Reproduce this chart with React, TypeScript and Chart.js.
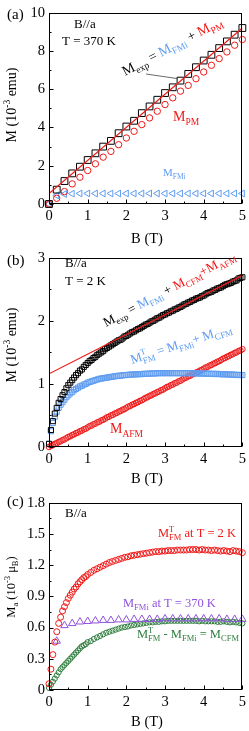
import React, { useEffect, useRef } from 'react';
import { Chart, registerables } from 'chart.js';
Chart.register(...registerables);

const FONT = '"Liberation Serif", "Times New Roman", serif';
const BLACK = '#000000';
const RED = '#f01818';
const BLUE = '#5e9cf0';
const PURPLE = '#9152de';
const GREEN = '#2f7d3e';

// ---------- common axis ticks ----------
const X_TICKS = [0, 1, 2, 3, 4, 5];
const X_MINOR = [0.5, 1.5, 2.5, 3.5, 4.5];

// ---------- panel (a): B//a, T = 370 K ----------
const B_A = [0, 0.2, 0.4, 0.6, 0.8, 1, 1.2, 1.4, 1.6, 1.8, 2, 2.2, 2.4, 2.6, 2.8, 3, 3.2, 3.4, 3.6, 3.8, 4, 4.2, 4.4, 4.6, 4.8, 5];
const A_EXP = [0, 0.75, 1.2, 1.6, 1.95, 2.3, 2.65, 3.0, 3.3, 3.7, 4.05, 4.35, 4.75, 5.1, 5.45, 5.8, 6.1, 6.45, 6.8, 7.15, 7.5, 7.8, 8.15, 8.5, 8.85, 9.2];
const A_PM = [0, 0.3, 0.65, 1.05, 1.4, 1.75, 2.1, 2.45, 2.75, 3.1, 3.45, 3.8, 4.15, 4.5, 4.85, 5.2, 5.55, 5.9, 6.2, 6.55, 6.9, 7.25, 7.6, 7.95, 8.3, 8.6];
const A_FMI = [0, 0.45, 0.52, 0.54, 0.55, 0.55, 0.55, 0.55, 0.55, 0.55, 0.55, 0.55, 0.55, 0.55, 0.55, 0.55, 0.55, 0.55, 0.55, 0.55, 0.55, 0.55, 0.55, 0.55, 0.55, 0.55];
const A_FIT_B = [0, 5];
const A_FIT = [0.55, 9.2];
const A_LEADER_B = 3.4;
const Y_TICKS_A = [0, 2, 4, 6, 8, 10];
const Y_LABELS_A = ['0', '2', '4', '6', '8', '10'];
const Y_MINOR_A = [1, 3, 5, 7, 9];

// ---------- panel (b): B//a, T = 2 K ----------
const B_B = [
  0, 0.05, 0.1, 0.15, 0.2, 0.25, 0.3, 0.35, 0.4, 0.45,
  0.5, 0.55, 0.6, 0.65, 0.7, 0.75, 0.8, 0.85, 0.9, 0.95,
  1, 1.05, 1.1, 1.15, 1.2, 1.25, 1.3, 1.35, 1.4, 1.45,
  1.5, 1.55, 1.6, 1.65, 1.7, 1.75, 1.8, 1.85, 1.9, 1.95,
  2, 2.05, 2.1, 2.15, 2.2, 2.25, 2.3, 2.35, 2.4, 2.45,
  2.5, 2.55, 2.6, 2.65, 2.7, 2.75, 2.8, 2.85, 2.9, 2.95,
  3, 3.05, 3.1, 3.15, 3.2, 3.25, 3.3, 3.35, 3.4, 3.45,
  3.5, 3.55, 3.6, 3.65, 3.7, 3.75, 3.8, 3.85, 3.9, 3.95,
  4, 4.05, 4.1, 4.15, 4.2, 4.25, 4.3, 4.35, 4.4, 4.45,
  4.5, 4.55, 4.6, 4.65, 4.7, 4.75, 4.8, 4.85, 4.9, 4.95,
  5,
];
const B_EXP = [
  0.05, 0.27, 0.41, 0.53, 0.62, 0.70, 0.76, 0.82, 0.87, 0.93,
  0.98, 1.02, 1.06, 1.10, 1.14, 1.17, 1.21, 1.23, 1.27, 1.30,
  1.33, 1.36, 1.38, 1.41, 1.43, 1.46, 1.48, 1.50, 1.52, 1.55,
  1.57, 1.59, 1.61, 1.63, 1.65, 1.67, 1.69, 1.70, 1.72, 1.75,
  1.76, 1.78, 1.80, 1.82, 1.83, 1.85, 1.87, 1.88, 1.90, 1.92,
  1.94, 1.95, 1.97, 1.99, 2.00, 2.02, 2.04, 2.05, 2.07, 2.09,
  2.10, 2.12, 2.13, 2.15, 2.16, 2.18, 2.19, 2.21, 2.22, 2.24,
  2.26, 2.27, 2.29, 2.30, 2.32, 2.33, 2.35, 2.36, 2.37, 2.39,
  2.40, 2.42, 2.44, 2.45, 2.46, 2.48, 2.49, 2.51, 2.52, 2.53,
  2.55, 2.57, 2.58, 2.59, 2.60, 2.62, 2.63, 2.64, 2.67, 2.68,
  2.69,
];
const B_FMT = [
  0.05, 0.25, 0.38, 0.48, 0.56, 0.62, 0.67, 0.71, 0.75, 0.79,
  0.82, 0.85, 0.87, 0.9, 0.92, 0.94, 0.96, 0.97, 0.99, 1.0,
  1.02, 1.03, 1.04, 1.05, 1.06, 1.07, 1.08, 1.085, 1.09, 1.095,
  1.1, 1.105, 1.11, 1.115, 1.12, 1.125, 1.13, 1.13, 1.135, 1.14,
  1.14, 1.145, 1.145, 1.15, 1.15, 1.15, 1.155, 1.155, 1.155, 1.16,
  1.16, 1.16, 1.165, 1.165, 1.165, 1.165, 1.17, 1.17, 1.17, 1.17,
  1.17, 1.17, 1.17, 1.17, 1.17, 1.17, 1.17, 1.17, 1.17, 1.17,
  1.17, 1.17, 1.17, 1.17, 1.17, 1.165, 1.17, 1.165, 1.165, 1.165,
  1.165, 1.16, 1.165, 1.16, 1.16, 1.16, 1.155, 1.16, 1.155, 1.155,
  1.15, 1.155, 1.15, 1.15, 1.145, 1.15, 1.145, 1.14, 1.145, 1.14,
  1.14,
];
const B_AFM = [
  0, 0.02, 0.03, 0.05, 0.06, 0.08, 0.09, 0.11, 0.12, 0.14,
  0.16, 0.17, 0.19, 0.2, 0.22, 0.23, 0.25, 0.26, 0.28, 0.29,
  0.31, 0.33, 0.34, 0.36, 0.37, 0.39, 0.4, 0.42, 0.43, 0.45,
  0.47, 0.48, 0.5, 0.51, 0.53, 0.54, 0.56, 0.57, 0.59, 0.6,
  0.62, 0.64, 0.65, 0.67, 0.68, 0.7, 0.71, 0.73, 0.74, 0.76,
  0.78, 0.79, 0.81, 0.82, 0.84, 0.85, 0.87, 0.88, 0.9, 0.91,
  0.93, 0.95, 0.96, 0.98, 0.99, 1.01, 1.02, 1.04, 1.05, 1.07,
  1.09, 1.1, 1.12, 1.13, 1.15, 1.16, 1.18, 1.19, 1.21, 1.22,
  1.24, 1.26, 1.27, 1.29, 1.3, 1.32, 1.33, 1.35, 1.36, 1.38,
  1.4, 1.41, 1.43, 1.44, 1.46, 1.47, 1.49, 1.5, 1.52, 1.53,
  1.55,
];
const B_FIT_B = [0, 5];
const B_FIT = [1.16, 2.72];
const Y_TICKS_B = [0, 1, 2, 3];
const Y_LABELS_B = ['0', '1', '2', '3'];
const Y_MINOR_B = [0.5, 1.5, 2.5];

// ---------- panel (c): B//a, Ma in 10^-3 muB ----------
const B_C = [
  0, 0.05, 0.1, 0.15, 0.2, 0.25, 0.3, 0.35, 0.4, 0.45,
  0.5, 0.55, 0.6, 0.65, 0.7, 0.75, 0.8, 0.85, 0.9, 0.95, 1,
  1.08, 1.16, 1.24, 1.32, 1.4, 1.48, 1.56, 1.64, 1.72, 1.8,
  1.88, 1.96, 2.04, 2.12, 2.2, 2.28, 2.36, 2.44, 2.52, 2.6,
  2.68, 2.76, 2.84, 2.92, 3, 3.08, 3.16, 3.24, 3.32, 3.4,
  3.48, 3.56, 3.64, 3.72, 3.8, 3.88, 3.96, 4.04, 4.12, 4.2,
  4.28, 4.36, 4.44, 4.52, 4.6, 4.68, 4.76, 4.84, 4.92, 5,
];
const C_FMT = [
  0.06, 0.2, 0.34, 0.46, 0.56, 0.64, 0.7, 0.76, 0.8, 0.84,
  0.88, 0.91, 0.94, 0.97, 0.99, 1.02, 1.04, 1.06, 1.08, 1.09, 1.11,
  1.13, 1.15, 1.165, 1.18, 1.195, 1.21, 1.225, 1.235, 1.245, 1.255,
  1.265, 1.275, 1.28, 1.29, 1.295, 1.3, 1.305, 1.31, 1.315, 1.32,
  1.325, 1.33, 1.33, 1.335, 1.335, 1.34, 1.34, 1.34, 1.345, 1.345,
  1.345, 1.345, 1.35, 1.35, 1.35, 1.345, 1.35, 1.345, 1.345, 1.34,
  1.345, 1.34, 1.335, 1.34, 1.335, 1.33, 1.34, 1.335, 1.33, 1.32,
];
const C_CFM = [
  0.02, 0.05, 0.08, 0.11, 0.14, 0.17, 0.2, 0.22, 0.24, 0.26,
  0.28, 0.3, 0.32, 0.34, 0.36, 0.38, 0.4, 0.42, 0.43, 0.44, 0.46,
  0.47, 0.49, 0.505, 0.52, 0.535, 0.55, 0.56, 0.57, 0.58, 0.59,
  0.6, 0.605, 0.61, 0.62, 0.625, 0.63, 0.635, 0.64, 0.645, 0.65,
  0.65, 0.655, 0.655, 0.66, 0.66, 0.665, 0.665, 0.665, 0.665, 0.665,
  0.665, 0.665, 0.665, 0.665, 0.665, 0.66, 0.665, 0.66, 0.66, 0.66,
  0.66, 0.655, 0.655, 0.66, 0.655, 0.65, 0.655, 0.65, 0.645, 0.64,
];
const B_C_TRI = [0.2, 0.4, 0.6, 0.8, 1, 1.2, 1.4, 1.6, 1.8, 2, 2.2, 2.4, 2.6, 2.8, 3, 3.2, 3.4, 3.6, 3.8, 4, 4.2, 4.4, 4.6, 4.8, 5];
const C_FMI = [0.47, 0.62, 0.64, 0.655, 0.66, 0.665, 0.67, 0.67, 0.675, 0.675, 0.68, 0.68, 0.68, 0.68, 0.685, 0.685, 0.685, 0.685, 0.685, 0.685, 0.685, 0.685, 0.68, 0.68, 0.68];
const Y_TICKS_C = [0, 0.3, 0.6, 0.9, 1.2, 1.5, 1.8];
const Y_LABELS_C = ['0', '0.3', '0.6', '0.9', '1.2', '1.5', '1.8'];
const Y_MINOR_C = [0.15, 0.45, 0.75, 1.05, 1.35, 1.65];

// ---------- helpers ----------
type Seg = { t: string; c: string; sub?: string; sup?: string };

function richWidth(ctx: CanvasRenderingContext2D, segs: Seg[], size: number) {
  let w = 0;
  for (const s of segs) {
    ctx.font = `${size}px ${FONT}`;
    w += ctx.measureText(s.t).width;
    ctx.font = `${size * 0.68}px ${FONT}`;
    w += Math.max(s.sub ? ctx.measureText(s.sub).width : 0, s.sup ? ctx.measureText(s.sup).width : 0);
  }
  return w;
}

function drawRich(ctx: CanvasRenderingContext2D, x: number, y: number, ang: number, segs: Seg[], size: number, align = 0) {
  ctx.save();
  ctx.translate(x, y);
  ctx.rotate((ang * Math.PI) / 180);
  ctx.textAlign = 'left';
  ctx.textBaseline = 'alphabetic';
  let cx = -align * richWidth(ctx, segs, size);
  const small = size * 0.68;
  for (const s of segs) {
    ctx.fillStyle = s.c;
    ctx.font = `${size}px ${FONT}`;
    ctx.fillText(s.t, cx, 0);
    cx += ctx.measureText(s.t).width;
    ctx.font = `${small}px ${FONT}`;
    let w = 0;
    if (s.sub) {
      ctx.fillText(s.sub, cx, size * 0.26);
      w = Math.max(w, ctx.measureText(s.sub).width);
    }
    if (s.sup) {
      ctx.fillText(s.sup, cx, -size * 0.42);
      w = Math.max(w, ctx.measureText(s.sup).width);
    }
    cx += w;
  }
  ctx.restore();
}

const pts = (xs: number[], ys: number[]) => xs.map((x, i) => ({ x, y: ys[i] }));

function markers(xs: number[], ys: number[], style: string, r: number, color: string, extra: any = {}) {
  return {
    data: pts(xs, ys),
    pointStyle: style,
    pointRadius: r,
    pointBorderColor: color,
    pointBackgroundColor: 'rgba(0,0,0,0)',
    pointBorderWidth: 1,
    borderColor: color,
    backgroundColor: 'rgba(0,0,0,0)',
    showLine: false,
    clip: false,
    ...extra,
  };
}

function fitLine(xs: number[], ys: number[], color: string, w: number) {
  return {
    data: pts(xs, ys),
    showLine: true,
    pointRadius: 0,
    borderColor: color,
    backgroundColor: color,
    borderWidth: w,
  };
}

type PanelSpec = {
  top: number;
  height: number;
  padTop: number;
  xHeight: number;
  yMin: number;
  yMax: number;
  yTicks: number[];
  yLabels: string[];
  yMinor: number[];
  datasets: any[];
  annotate: (ctx: CanvasRenderingContext2D, chart: any) => void;
};

function Panel({ spec }: { spec: PanelSpec }) {
  const ref = useRef<HTMLCanvasElement>(null);
  useEffect(() => {
    const canvas = ref.current!;
    const tickFont = { family: FONT, size: 14.5 };
    const chart = new Chart(canvas, {
      type: 'scatter',
      data: { datasets: spec.datasets },
      options: {
        responsive: false,
        animation: false,
        devicePixelRatio: 1,
        events: [],
        layout: { padding: { top: spec.padTop, right: 4, left: 0, bottom: 0 } },
        plugins: { legend: { display: false }, tooltip: { enabled: false } },
        scales: {
          x: {
            type: 'linear',
            min: 0,
            max: 5,
            afterBuildTicks: (s: any) => {
              s.ticks = X_TICKS.map((v) => ({ value: v }));
            },
            afterFit: (s: any) => {
              s.height = spec.xHeight;
            },
            ticks: {
              font: tickFont,
              color: BLACK,
              padding: 3,
              maxRotation: 0,
              autoSkip: false,
              callback: (v: any) => String(v),
            },
            grid: { display: false, drawTicks: false },
            border: { display: false },
          },
          y: {
            type: 'linear',
            min: spec.yMin,
            max: spec.yMax,
            afterBuildTicks: (s: any) => {
              s.ticks = spec.yTicks.map((v) => ({ value: v }));
            },
            afterFit: (s: any) => {
              s.width = 49;
            },
            ticks: {
              font: tickFont,
              color: BLACK,
              padding: 4,
              autoSkip: false,
              callback: (_v: any, i: number) => spec.yLabels[i],
            },
            grid: { display: false, drawTicks: false },
            border: { display: false },
          },
        },
      } as any,
      plugins: [
        {
          id: 'frame',
          afterDraw(c: any) {
            const { ctx, chartArea: a } = c;
            const xs = c.scales.x;
            const ys = c.scales.y;
            ctx.save();
            ctx.strokeStyle = BLACK;
            ctx.lineWidth = 1;
            const L = Math.round(a.left) + 0.5;
            const R = Math.round(a.right) - 0.5;
            const T = Math.round(a.top) + 0.5;
            const Bt = Math.round(a.bottom) - 0.5;
            ctx.strokeRect(L, T, R - L, Bt - T);
            ctx.beginPath();
            const xt = (v: number, len: number) => {
              const px = Math.round(xs.getPixelForValue(v)) + 0.5;
              ctx.moveTo(px, Bt);
              ctx.lineTo(px, Bt - len);
            };
            const yt = (v: number, len: number) => {
              const py = Math.round(ys.getPixelForValue(v)) + 0.5;
              ctx.moveTo(L, py);
              ctx.lineTo(L + len, py);
            };
            X_TICKS.forEach((v) => xt(v, 4));
            X_MINOR.forEach((v) => xt(v, 2));
            spec.yTicks.forEach((v) => yt(v, 4));
            spec.yMinor.forEach((v) => yt(v, 2));
            ctx.stroke();
            spec.annotate(ctx, c);
            ctx.restore();
          },
        },
      ],
    });
    return () => chart.destroy();
  }, []);
  return (
    <canvas
      ref={ref}
      width={249}
      height={spec.height}
      style={{ position: 'absolute', left: 0, top: spec.top, width: 249, height: spec.height }}
    />
  );
}

const plain = (ctx: CanvasRenderingContext2D, text: string, x: number, y: number, size: number, color = BLACK, align: CanvasTextAlign = 'left') => {
  ctx.font = `${size}px ${FONT}`;
  ctx.fillStyle = color;
  ctx.textAlign = align;
  ctx.textBaseline = 'alphabetic';
  ctx.fillText(text, x, y);
};

const emuTitle: Seg[] = [
  { t: 'M (10', c: BLACK, sup: '-3' },
  { t: ' emu)', c: BLACK },
];

const specA: PanelSpec = {
  top: 0,
  height: 250,
  padTop: 10,
  xHeight: 46,
  yMin: 0,
  yMax: 10,
  yTicks: Y_TICKS_A,
  yLabels: Y_LABELS_A,
  yMinor: Y_MINOR_A,
  datasets: [
    fitLine(A_FIT_B, A_FIT, RED, 1.2),
    markers(B_A, A_EXP, 'rect', 4.8, BLACK),
    markers(B_A, A_PM, 'circle', 3.2, RED),
    markers(B_A, A_FMI, 'triangle', 3.9, BLUE, { pointRotation: -90 }),
  ],
  annotate: (ctx, c) => {
    plain(ctx, '(a)', 7, 19, 15);
    plain(ctx, 'B//a', 74, 28, 13);
    plain(ctx, 'T = 370 K', 62, 45, 13);
    drawRich(ctx, 125, 76, -27.7, [
      { t: 'M', c: BLACK, sub: 'exp' },
      { t: ' = ', c: BLACK },
      { t: 'M', c: BLUE, sub: 'FMi' },
      { t: ' + ', c: BLACK },
      { t: 'M', c: RED, sub: 'PM' },
    ], 14);
    // leader line to the experimental point
    const idx = B_A.indexOf(A_LEADER_B);
    const tx = c.scales.x.getPixelForValue(A_LEADER_B) - 3;
    const ty = c.scales.y.getPixelForValue(A_EXP[idx]) - 2;
    ctx.strokeStyle = '#444';
    ctx.lineWidth = 0.8;
    ctx.beginPath();
    ctx.moveTo(146, 74);
    ctx.lineTo(tx, ty);
    ctx.stroke();
    drawRich(ctx, 173, 121, 0, [{ t: 'M', c: RED, sub: 'PM' }], 14);
    drawRich(ctx, 163, 176, 0, [{ t: 'M', c: BLUE, sub: 'FMi' }], 11);
    drawRich(ctx, 16, 105, -90, emuTitle, 14, 0.5);
    plain(ctx, 'B (T)', 147, 243, 14.5, BLACK, 'center');
  },
};

const specB: PanelSpec = {
  top: 245,
  height: 250,
  padTop: 8,
  xHeight: 48,
  yMin: 0,
  yMax: 3,
  yTicks: Y_TICKS_B,
  yLabels: Y_LABELS_B,
  yMinor: Y_MINOR_B,
  datasets: [
    fitLine(B_FIT_B, B_FIT, RED, 1.2),
    markers(B_B, B_EXP, 'rect', 3.6, BLACK),
    markers(B_B, B_FMT, 'rect', 3.6, BLUE),
    markers(B_B, B_AFM, 'circle', 2.8, RED),
  ],
  annotate: (ctx) => {
    plain(ctx, '(b)', 7, 20, 15);
    plain(ctx, 'B//a', 65, 22, 13);
    plain(ctx, 'T = 2 K', 65, 40, 13);
    drawRich(ctx, 106, 82, -27.8, [
      { t: 'M', c: BLACK, sub: 'exp' },
      { t: ' = ', c: BLACK },
      { t: 'M', c: BLUE, sub: 'FMi' },
      { t: ' + ', c: BLACK },
      { t: 'M', c: RED, sub: 'CFM' },
      { t: '+', c: RED },
      { t: 'M', c: RED, sub: 'AFM' },
    ], 13);
    drawRich(ctx, 132, 119, -18, [
      { t: 'M', c: BLUE, sub: 'FM', sup: 'T' },
      { t: ' = ', c: BLUE },
      { t: 'M', c: BLUE, sub: 'FMi' },
      { t: '+ ', c: BLUE },
      { t: 'M', c: BLUE, sub: 'CFM' },
    ], 13);
    drawRich(ctx, 110, 188, 0, [{ t: 'M', c: RED, sub: 'AFM' }], 14);
    drawRich(ctx, 16, 100, -90, emuTitle, 14, 0.5);
    plain(ctx, 'B (T)', 147, 238, 14.5, BLACK, 'center');
  },
};

const specC: PanelSpec = {
  top: 490,
  height: 241,
  padTop: 7,
  xHeight: 41,
  yMin: 0,
  yMax: 1.8,
  yTicks: Y_TICKS_C,
  yLabels: Y_LABELS_C,
  yMinor: Y_MINOR_C,
  datasets: [
    markers(B_C, C_FMT, 'circle', 3.0, RED),
    markers(B_C_TRI, C_FMI, 'triangle', 4.3, PURPLE),
    markers(B_C, C_CFM, 'circle', 2.6, GREEN),
  ],
  annotate: (ctx) => {
    plain(ctx, '(c)', 7, 16, 15);
    plain(ctx, 'B//a', 65, 27, 13);
    drawRich(ctx, 158, 47, 0, [
      { t: 'M', c: RED, sub: 'FM', sup: 'T' },
      { t: ' at T = 2 K', c: RED },
    ], 12.5);
    drawRich(ctx, 123, 117, 0, [
      { t: 'M', c: PURPLE, sub: 'FMi' },
      { t: ' at T = 370 K', c: PURPLE },
    ], 12.5);
    drawRich(ctx, 137, 148, 0, [
      { t: 'M', c: GREEN, sub: 'FM', sup: 'T' },
      { t: ' - ', c: GREEN },
      { t: 'M', c: GREEN, sub: 'FMi' },
      { t: ' = ', c: GREEN },
      { t: 'M', c: GREEN, sub: 'CFM' },
    ], 12.5);
    drawRich(ctx, 15, 97, -90, [
      { t: 'M', c: BLACK, sub: 'a' },
      { t: ' (10', c: BLACK, sup: '-3' },
      { t: ' \u03bc', c: BLACK, sub: 'B' },
      { t: ')', c: BLACK },
    ], 12.5, 0.5);
    plain(ctx, 'B (T)', 147, 236, 14.5, BLACK, 'center');
  },
};

export default function App() {
  return (
    <div style={{ position: 'absolute', left: 0, top: 0, width: 249, height: 731, background: '#fff', overflow: 'hidden' }}>
      <Panel spec={specA} />
      <Panel spec={specB} />
      <Panel spec={specC} />
    </div>
  );
}
